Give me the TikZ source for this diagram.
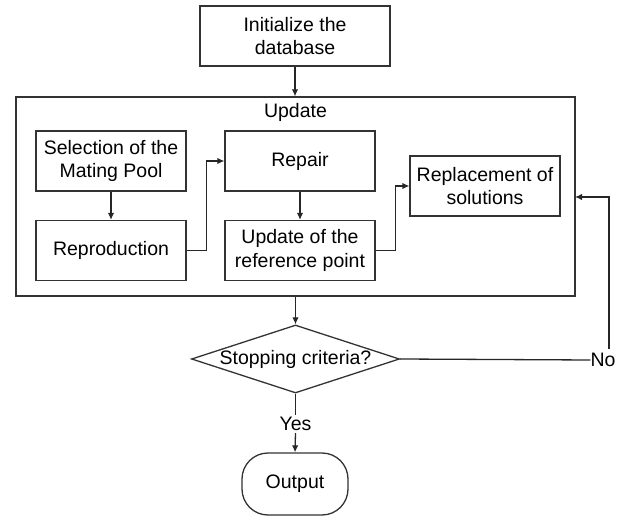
\documentclass[tikz,border=0pt]{standalone}
\usepackage{fontspec}
\setmainfont{Liberation Sans}
\usetikzlibrary{shapes.geometric,arrows.meta}
\begin{document}
\begin{tikzpicture}[x=1pt,y=-1pt,
  txt/.style={font=\fontsize{19.5}{23.3}\selectfont},
  box/.style={txt,draw=black!80,line width=1.3pt,minimum width=150pt,minimum height=60pt,inner sep=0pt,align=center},
  arr/.style={draw=black!85,line width=1.3pt,-{Latex[length=7pt,width=6.5pt]}},
  ln/.style={draw=black!85,line width=1.3pt}]
\useasboundingbox (0,0) rectangle (633,516);
\node[box,minimum width=190pt] (init) at (295,36) {Initialize the\\database};
\node[box,minimum width=559pt,minimum height=199pt] (ub) at (295.5,196.5) {};
\node[txt,inner sep=0pt] (ut) at (295.5,112) {Update};
\node[box] (sel) at (111,161) {Selection of the\\Mating Pool};
\node[box] (rep) at (111,250.5) {Reproduction};
\node[box] (rpr) at (300,161) {Repair};
\node[box] (urp) at (300,250.5) {Update of the\\reference point};
\node[box] (rpl) at (485,186) {Replacement of\\solutions};
\node[txt,diamond,draw=black!80,line width=1.3pt,inner sep=0pt,aspect=3.06,minimum width=208pt,minimum height=68pt] (dia) at (295.5,359) {Stopping criteria?};
\node[txt,inner sep=2pt] (yes) at (295.5,424) {Yes};
\node[box,rounded corners=26pt,minimum width=106pt,minimum height=62pt] (out) at (295,484) {Output};
\node[txt,inner sep=0pt] (no) at (603,360) {No};
\coordinate (nt) at (609,349);
\coordinate (ret) at (575,197);
\draw[arr] (init.south) -- (init.south |- ub.north);
\draw[arr] (sel) -- (rep);
\draw[arr] (rep.east) -- ++(20,0) |- (rpr.west);
\draw[arr] (rpr) -- (urp);
\draw[arr] (urp.east) -- ++(20,0) |- (rpl.west);
\draw[arr] (ub.south -| dia.north) -- (dia.north);
\draw[ln] (dia.east) -- (no.west);
\draw[arr] (nt) |- (ret);
\draw[ln] (dia.south) -- (yes.north);
\draw[arr] (yes.south) -- (out.north);
\end{tikzpicture}
\end{document}
